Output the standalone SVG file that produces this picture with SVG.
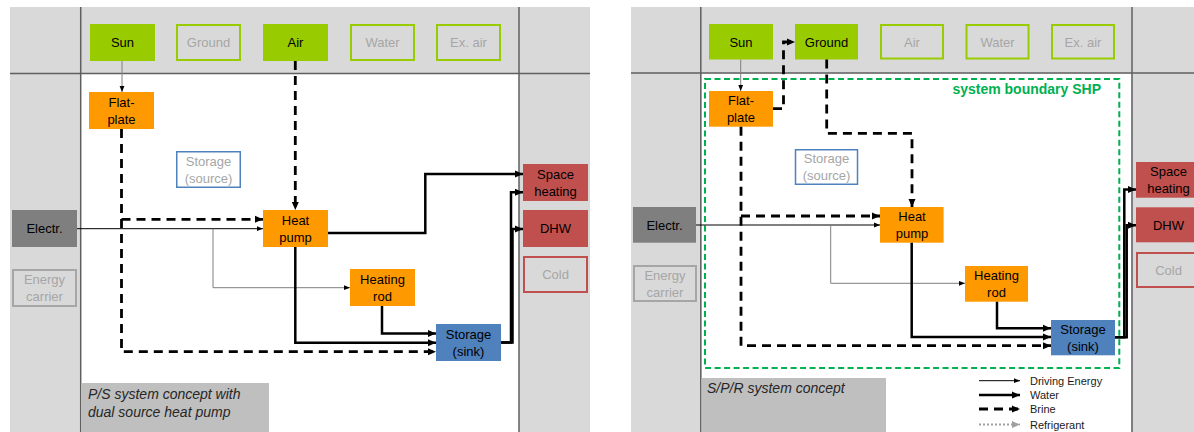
<svg xmlns="http://www.w3.org/2000/svg" width="1194" height="432" viewBox="0 0 1194 432">
<style>
.bg{fill:#D9D9D9}
.grid{stroke:#5F5F5F;stroke-width:1.5;fill:none}
.t{font-family:"Liberation Sans",Arial,sans-serif;font-size:13px;text-anchor:middle;fill:#000}
.tg{fill:#A6A6A6}
.src{fill:#99CC00}
.srco{fill:none;stroke:#99CC00;stroke-width:2}
.or{fill:#FF9900}
.red{fill:#C0504D}
.redo{fill:#D9D9D9;stroke:#C0504D;stroke-width:2}
.blue{fill:#4F81BD}
.blueo{fill:#fff;stroke:#4F81BD;stroke-width:1.5}
.el{fill:#7F7F7F}
.elo{fill:none;stroke:#A6A6A6;stroke-width:2}
.lab{fill:#BFBFBF}
.lt{font-family:"Liberation Sans",Arial,sans-serif;font-size:14px;font-style:italic;fill:#262626}
.thin{stroke:#000;stroke-width:1;fill:none}
.thing{stroke:#7F7F7F;stroke-width:1;fill:none}
.water{stroke:#000;stroke-width:2.5;fill:none}
.brine{stroke:#000;stroke-width:2.8;fill:none;stroke-dasharray:9,6}
.refr{stroke:#A0A0A0;stroke-width:2;fill:none;stroke-dasharray:2,2}
.bound{stroke:#00B050;stroke-width:2;fill:none;stroke-dasharray:6,3.5}
.leg{font-family:"Liberation Sans",Arial,sans-serif;font-size:11px;fill:#1a1a1a}
</style>
<defs>
<marker id="aT" markerUnits="userSpaceOnUse" markerWidth="6" markerHeight="6" viewBox="0 0 6 6" refX="6" refY="3" orient="auto"><path d="M0,0.6 L6,3 L0,5.4z" fill="#000"/></marker>
<marker id="aW" markerUnits="userSpaceOnUse" markerWidth="8" markerHeight="8" viewBox="0 0 8 8" refX="8" refY="4" orient="auto"><path d="M0,0.5 L8,4 L0,7.5z" fill="#000"/></marker>
<marker id="aG" markerUnits="userSpaceOnUse" markerWidth="8" markerHeight="8" viewBox="0 0 8 8" refX="8" refY="4" orient="auto"><path d="M0,0.5 L8,4 L0,7.5z" fill="#A0A0A0"/></marker>
</defs>

<!-- LEFT PANEL -->
<g id="panel-left">
<rect class="bg" x="10" y="7" width="580" height="425"/>
<rect fill="#fff" x="81" y="74" width="438" height="358"/>
<line class="grid" x1="10" y1="73.5" x2="590" y2="73.5"/>
<line class="grid" x1="80.7" y1="7" x2="80.7" y2="432"/>
<line class="grid" x1="519" y1="7" x2="519" y2="432"/>
</g>
<g id="L-sun"><rect class="src" x="90" y="24" width="65" height="37"/><text class="t" x="122.5" y="47">Sun</text></g>
<g id="L-ground"><rect class="srco" x="177" y="25" width="63" height="35"/><text class="t tg" x="208.5" y="47">Ground</text></g>
<g id="L-air"><rect class="src" x="263" y="24" width="65" height="37"/><text class="t" x="295.5" y="47">Air</text></g>
<g id="L-water"><rect class="srco" x="351" y="25" width="63" height="35"/><text class="t tg" x="382.5" y="47">Water</text></g>
<g id="L-exair"><rect class="srco" x="437" y="25" width="63" height="35"/><text class="t tg" x="468.5" y="47">Ex. air</text></g>
<g id="L-flatplate"><rect class="or" x="89" y="92" width="65" height="37"/><text class="t" x="121.5" y="106.8">Flat-</text><text class="t" x="121.5" y="123.5">plate</text></g>
<g id="L-storsrc"><rect class="blueo" x="176.75" y="151.75" width="63.5" height="35.5"/><text class="t tg" x="208.5" y="165.5">Storage</text><text class="t tg" x="208.5" y="182.5">(source)</text></g>
<g id="L-electr"><rect class="el" x="12" y="210" width="65" height="37"/><text class="t" x="44.5" y="233">Electr.</text></g>
<g id="L-energy"><rect class="elo" x="13" y="270" width="63" height="36"/><text class="t tg" x="44.5" y="284">Energy</text><text class="t tg" x="44.5" y="301">carrier</text></g>
<g id="L-hp"><rect class="or" x="263" y="210" width="65" height="37"/><text class="t" x="295.5" y="224.5">Heat</text><text class="t" x="295.5" y="241.5">pump</text></g>
<g id="L-rod"><rect class="or" x="350" y="269" width="65" height="37"/><text class="t" x="382.5" y="283.5">Heating</text><text class="t" x="382.5" y="300.5">rod</text></g>
<g id="L-storsink"><rect class="blue" x="436" y="324" width="65" height="37"/><text class="t" x="468.5" y="338.5">Storage</text><text class="t" x="468.5" y="355.5">(sink)</text></g>
<g id="L-space"><rect class="red" x="523" y="164" width="65" height="37"/><text class="t" x="555.5" y="178.5">Space</text><text class="t" x="555.5" y="195.5">heating</text></g>
<g id="L-dhw"><rect class="red" x="523" y="210" width="65" height="37"/><text class="t" x="555.5" y="233">DHW</text></g>
<g id="L-cold"><rect class="redo" x="524" y="257" width="63" height="35"/><text class="t tg" x="555.5" y="279">Cold</text></g>
<g id="L-label"><rect class="lab" x="81" y="383" width="188" height="49"/><text class="lt" x="88" y="399">P/S system concept with</text><text class="lt" x="88" y="417">dual source heat pump</text></g>

<g id="L-connectors">
<path class="thing" d="M122,61 V92" marker-end="url(#aT)"/>
<path class="brine" d="M295.3,61 V210" marker-end="url(#aW)"/>
<path class="brine" d="M121.5,129 V351.7 H436" marker-end="url(#aW)"/>
<path class="brine" d="M121.5,219.3 H263" marker-end="url(#aW)"/>
<path class="thin" d="M77,228.7 H263" marker-end="url(#aT)"/>
<path class="thing" d="M213,228.7 V287.7 H350" marker-end="url(#aT)"/>
<path class="water" d="M328,233 H425.3 V174 H523" marker-end="url(#aW)"/>
<path class="water" d="M295.3,247 V342.7 H436" marker-end="url(#aW)"/>
<path class="water" d="M382,306 V333.5 H436" marker-end="url(#aW)"/>
<path class="water" d="M501,342.5 H511 V192.3 H523" marker-end="url(#aW)"/>
<path class="water" d="M501,342.5 H512.5 V229 H523" marker-end="url(#aW)"/>
</g>

<!-- RIGHT PANEL -->
<g id="panel-right">
<rect class="bg" x="631" y="7" width="563" height="425"/>
<rect fill="#fff" x="701.5" y="73.5" width="430" height="358.5"/>
<line class="grid" x1="631" y1="73" x2="1194" y2="73"/>
<line class="grid" x1="700.8" y1="7" x2="700.8" y2="432"/>
<line class="grid" x1="1132" y1="7" x2="1132" y2="432"/>
</g>
<g id="R-boundary"><rect class="bound" x="705" y="79" width="414.3" height="289"/><text x="1101" y="94.3" font-family="Liberation Sans, Arial, sans-serif" font-size="14" font-weight="bold" fill="#00B050" text-anchor="end">system boundary SHP</text></g>
<g id="R-sun"><rect class="src" x="709" y="24" width="64" height="35.5"/><text class="t" x="741" y="46.5">Sun</text></g>
<g id="R-ground"><rect class="src" x="795" y="24" width="63" height="35.5"/><text class="t" x="826.5" y="46.5">Ground</text></g>
<g id="R-air"><rect class="srco" x="881" y="25" width="62" height="33.5"/><text class="t tg" x="912" y="46.5">Air</text></g>
<g id="R-water"><rect class="srco" x="966.5" y="25" width="62" height="33.5"/><text class="t tg" x="997.5" y="46.5">Water</text></g>
<g id="R-exair"><rect class="srco" x="1052" y="25" width="62" height="33.5"/><text class="t tg" x="1083" y="46.5">Ex. air</text></g>
<g id="R-flatplate"><rect class="or" x="709" y="91" width="64" height="35.7"/><text class="t" x="741" y="105">Flat-</text><text class="t" x="741" y="122">plate</text></g>
<g id="R-storsrc"><rect class="blueo" x="795.5" y="149.75" width="62" height="34.5"/><text class="t tg" x="826.5" y="163">Storage</text><text class="t tg" x="826.5" y="180">(source)</text></g>
<g id="R-electr"><rect class="el" x="633" y="207" width="63" height="35.7"/><text class="t" x="664.5" y="229.5">Electr.</text></g>
<g id="R-energy"><rect class="elo" x="634" y="266" width="62" height="35"/><text class="t tg" x="665" y="279.5">Energy</text><text class="t tg" x="665" y="296.5">carrier</text></g>
<g id="R-hp"><rect class="or" x="880" y="207" width="63.6" height="35.7"/><text class="t" x="912" y="221">Heat</text><text class="t" x="912" y="238">pump</text></g>
<g id="R-rod"><rect class="or" x="965" y="266" width="63" height="35.7"/><text class="t" x="996.5" y="280">Heating</text><text class="t" x="996.5" y="297">rod</text></g>
<g id="R-storsink"><rect class="blue" x="1051" y="320" width="64" height="35.3"/><text class="t" x="1083" y="334">Storage</text><text class="t" x="1083" y="351">(sink)</text></g>
<g id="R-space"><rect class="red" x="1136" y="162" width="65" height="35.7"/><text class="t" x="1168.5" y="176">Space</text><text class="t" x="1168.5" y="193">heating</text></g>
<g id="R-dhw"><rect class="red" x="1136" y="207.3" width="65" height="35"/><text class="t" x="1168.5" y="229.5">DHW</text></g>
<g id="R-cold"><rect class="redo" x="1137" y="253" width="63" height="34"/><text class="t tg" x="1168.5" y="274.5">Cold</text></g>
<g id="R-label"><rect class="lab" x="701.5" y="378" width="184.5" height="54"/><text class="lt" x="707" y="393">S/P/R system concept</text></g>

<g id="R-connectors">
<path class="thing" d="M740.7,59.5 V91" marker-end="url(#aT)"/>
<path class="brine" d="M773,108.7 H783.5 V42 H795" marker-end="url(#aW)"/>
<path class="brine" d="M826.7,59.5 V133.3 H912 V207" marker-end="url(#aW)"/>
<path class="brine" d="M741,126.7 V345.7 H1051" marker-end="url(#aW)"/>
<path class="brine" d="M741,216 H880" marker-end="url(#aW)"/>
<path class="thin" d="M696,225 H880" marker-end="url(#aT)"/>
<path class="thing" d="M830.7,225 V283.3 H965" marker-end="url(#aT)"/>
<path class="water" d="M911.7,242.7 V337 H1051" marker-end="url(#aW)"/>
<path class="water" d="M997,301.7 V328.3 H1051" marker-end="url(#aW)"/>
<path class="water" d="M1115,337.3 H1126.7 V225.3 H1136" marker-end="url(#aW)"/>
<path class="water" d="M1115,337.3 H1124.3 V189.5 H1136" stroke-width="1.8" marker-end="url(#aW)"/>
</g>

<g id="legend">
<path class="thin" d="M979,380.7 H1020" marker-end="url(#aT)"/>
<text class="leg" x="1030" y="384.5">Driving Energy</text>
<path class="water" d="M979,395 H1020" marker-end="url(#aW)"/>
<text class="leg" x="1030" y="399">Water</text>
<path class="brine" d="M979,409 H1020" stroke-dasharray="8,5" marker-end="url(#aW)"/>
<text class="leg" x="1030" y="413">Brine</text>
<path class="refr" d="M979,424.5 H1020" marker-end="url(#aG)"/>
<text class="leg" x="1030" y="428.5">Refrigerant</text>
</g>
</svg>
